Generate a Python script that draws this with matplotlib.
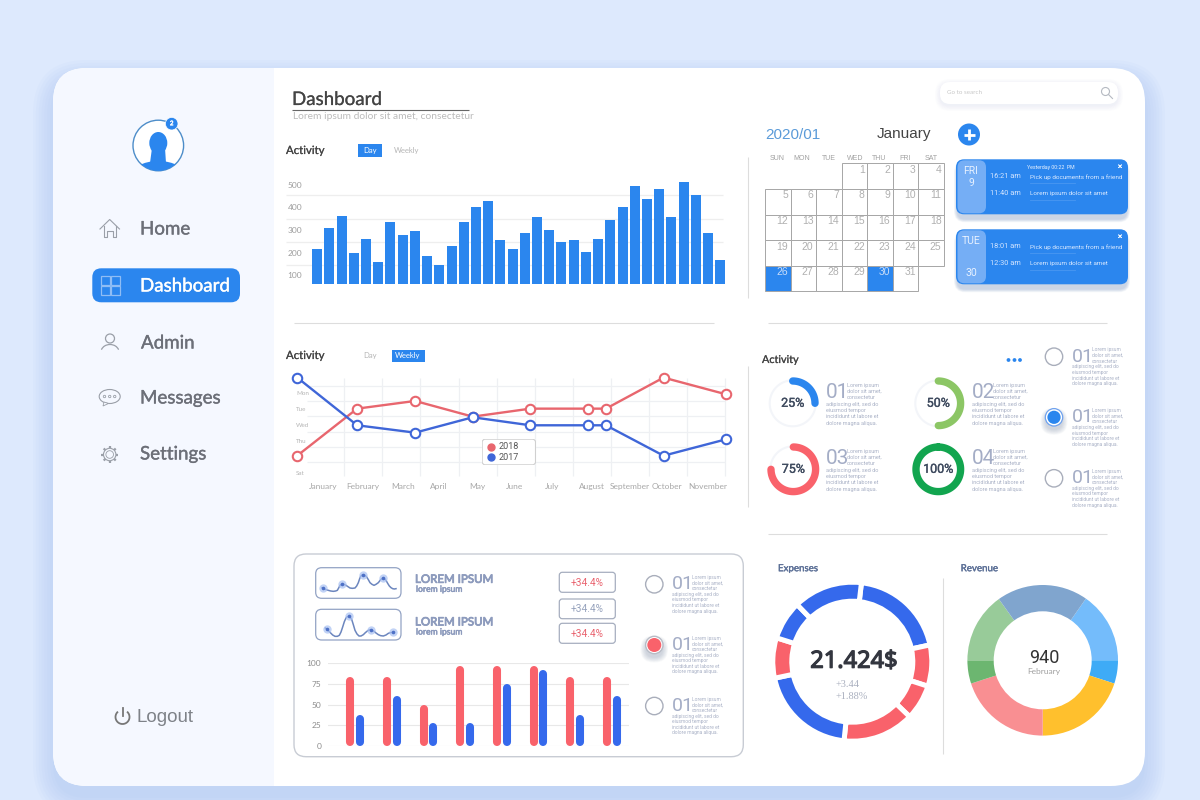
import numpy as np
import matplotlib
matplotlib.use("Agg")
import matplotlib.pyplot as plt
import matplotlib.patheffects as pe
from matplotlib.patches import FancyBboxPatch, Circle, Rectangle, Ellipse, Polygon, Arc

plt.rcParams['font.family'] = ['Lato', 'DejaVu Sans']

BLUE = '#2B86EE'
RED = '#F9626B'
LINE_RED = '#E8666E'
LINE_BLUE = '#3F66D8'
ROYAL = '#3569EC'
GREY_TXT = '#A9B1C6'

# --- data ---
activity_values = [214, 309, 362, 198, 261, 158, 337, 278, 294, 186, 143, 230, 337, 402, 429, 256, 214,
                   288, 358, 300, 247, 256, 202, 261, 344, 402, 497, 438, 484, 358, 515, 454, 287, 165]
activity_ticks = [100, 200, 300, 400, 500]
activity_grid = [143, 245, 349, 456]

months = ['January', 'February', 'March', 'April', 'May', 'June', 'July', 'August', 'September', 'October', 'November']
month_pos = [0, 1.04, 2.07, 3.01, 4.0, 4.97, 5.96, 6.99, 7.97, 8.96, 10.0]
week_labels = ['Mon', 'Tue', 'Wed', 'Thu', 'Sat']
week_pos = [1, 2, 3, 4, 6]
line_x = [-0.68, 0.88, 2.39, 3.89, 5.39, 6.88, 7.36, 8.86, 10.48]
line_2018 = [4.94, 2.0, 1.52, 2.5, 2.0, 2.0, 2.0, 0.06, 1.1]
line_2017 = [0.06, 3.04, 3.5, 2.54, 3.04, 3.04, 3.04, 4.94, 3.92]
line_vgrid = [0.55, 1.54, 2.53, 3.52, 4.51, 5.51, 6.51, 7.5, 8.47, 9.46, 10.45]
line_hgrid = [0.56, 1.52, 2.48, 3.44, 4.375, 5.33]

red_bars = [83, 83, 50, 97, 97, 97, 83, 83]
blue_bars = [37, 60, 27, 27, 75, 92, 37, 60]
bar_ticks = [0, 25, 50, 75, 100]

ring_percent = [25, 50, 75, 100]
ring_colors = [BLUE, '#8CC665', RED, '#12A54F']

expense_spans = [71.2, 30.2, 25.8, 52.2, 72.0, 29.5, 28.5, 50.6]
expense_colors = [ROYAL, RED, RED, RED, ROYAL, RED, ROYAL, ROYAL]
revenue_spans = [55, 18, 72, 72, 18, 54.4, 70.6]
revenue_colors = ['#74BCFB', '#3EABF6', '#FFC02D', '#F98F92', '#6CB670', '#98CB99', '#80A5CE']

spark1_x = [36, 40, 48, 55, 62, 70, 77, 82, 86, 90, 94, 97, 102, 108, 114, 120, 127, 135, 140, 145, 149,
            152, 156, 160, 165, 170, 175, 180, 186, 192, 198, 205, 212, 218, 223, 228, 233, 238, 243, 248, 253, 258]
spark1_y = [77, 79, 83, 85, 87, 88, 87, 85, 78, 70, 67, 66, 67, 70, 74, 78, 79, 78, 72, 62, 50,
            43, 39, 38, 40, 45, 53, 62, 67, 70, 67, 62, 53, 48, 50, 55, 64, 72, 77, 80, 81, 80]
spark2_x = [46, 50, 56, 62, 68, 75, 82, 88, 93, 98, 103, 108, 112, 116, 120, 125, 130, 135,
            141, 147, 153, 160, 166, 172, 177, 182, 187, 192, 198, 205, 212, 220, 228, 235, 241, 248]
spark2_y = [198, 201, 207, 213, 219, 223, 223, 220, 210, 195, 179, 168, 164, 163, 165, 172, 188, 205,
            216, 222, 222, 218, 212, 207, 204, 203, 205, 208, 213, 218, 221, 222, 219, 214, 212, 211]
spark1_dots = [1, 11, 23, 33]
spark2_dots = [1, 13, 25, 35]

cal_days = ['SUN', 'MON', 'TUE', 'WED', 'THU', 'FRI', 'SAT']
cal_col_x = [764.7, 790.7, 816, 841.7, 867.3, 892.7, 918.3, 944]
cal_row_y = [163.3, 189, 214.7, 240.3, 265.7, 291.3]
cal_selected = [26, 30]


fig = plt.figure(figsize=(12, 8), dpi=100, facecolor='#DDE9FD')

# page layer, one unit = one pixel
bg = fig.add_axes([0, 0, 1, 1])
bg.set_xlim(0, 1200)
bg.set_ylim(800, 0)
bg.axis('off')


def px_axes(x0, y0, x1, y1, **kw):
    ax = fig.add_axes([x0 / 1200, 1 - y1 / 800, (x1 - x0) / 1200, (y1 - y0) / 800], **kw)
    ax.patch.set_alpha(0)
    return ax


def rbox(x0, y0, x1, y1, r, fc='white', ec='none', lw=0, z=2, **kw):
    p = FancyBboxPatch((x0, y0), x1 - x0, y1 - y0, boxstyle='round,pad=0,rounding_size=%g' % r,
                       fc=fc, ec=ec, lw=lw, zorder=z, **kw)
    bg.add_patch(p)
    return p


def shadow(x0, y0, x1, y1, r, color, spread=10, dy=4, alpha=0.05, z=2.7):
    for s in np.linspace(spread, 0, 8):
        rbox(x0 - s, y0 - s + dy, x1 + s, y1 + s + dy, r + s, fc=color, alpha=alpha, z=z)


def txt(x, y, s, size, color='#555555', ha='left', va='center', z=5, heavy=0, **kw):
    t = bg.text(x, y + 1, s, fontsize=size, color=color, ha=ha, va=va, zorder=z, **kw)
    if heavy:
        # thickens the regular cut, no heavier cut of these fonts shows up
        t.set_path_effects([pe.withStroke(linewidth=heavy, foreground=color)])
    return t


def hline(x0, x1, y, color='#DDDDDD', lw=0.8):
    bg.plot([x0, x1], [y, y], color=color, lw=lw, zorder=3, solid_capstyle='butt')


def vline(x, y0, y1, color='#DDDDDD', lw=0.8):
    bg.plot([x, x], [y0, y1], color=color, lw=lw, zorder=3, solid_capstyle='butt')


# card and sidebar
shadow(53, 68, 1145, 786, 34, '#9FBCEC', spread=20, dy=12, alpha=0.06, z=1)
card = rbox(53, 68, 1145, 786, 34, fc='white', z=2)
side = Rectangle((53, 68), 221, 718, fc='#F5F8FF', ec='none', zorder=2.5)
bg.add_patch(side)
side.set_clip_path(card)

# sidebar: avatar
av_clip = Circle((158.3, 145.5), 25.3, transform=bg.transData)
bg.add_patch(Circle((158.3, 145.5), 25.3, fc='white', ec='#4D8DC9', lw=1, zorder=3))
sil = Ellipse((158.3, 177), 56, 32, fc=BLUE, ec='none', zorder=3.2)
bg.add_patch(sil)
sil.set_clip_path(av_clip)
bg.add_patch(Polygon([(152, 148), (165, 148), (166, 163), (150, 163)], fc=BLUE, ec='none', zorder=3.2))
bg.add_patch(Ellipse((158.3, 143), 18, 22, fc=BLUE, ec='none', zorder=3.3))
bg.add_patch(Circle((171.7, 123.7), 6.3, fc=BLUE, ec='white', lw=0.5, zorder=3.4))
txt(171.7, 122.7, '2', 4.5, 'white', ha='center', heavy=0.3)

# sidebar: menu
rbox(92.3, 268.3, 240, 302.3, 9, fc=BLUE, z=3)
menu = [('Home', 140, 228), ('Dashboard', 140, 285), ('Admin', 141, 342), ('Messages', 140, 397), ('Settings', 140, 453)]
for name, x, y in menu:
    txt(x, y, name, 13.5, 'white' if name == 'Dashboard' else '#6C6F78', heavy=0.25)

ic = '#9A9FA8'
# home
bg.plot([100, 109.7, 119.5], [229, 219.5, 229], color=ic, lw=0.8, zorder=4)
bg.plot([103.5, 103.5, 107, 107, 112.5, 112.5, 116, 116], [226, 236.5, 236.5, 230.5, 230.5, 236.5, 236.5, 226], color=ic, lw=0.8, zorder=4)
# dashboard
for dx in (100.5, 110.5):
    for dy in (276, 286):
        bg.add_patch(Rectangle((dx, dy), 9, 9, fc='none', ec='#8FBDF5', lw=0.9, zorder=4))
# admin
bg.add_patch(Circle((110, 338.5), 4.5, fc='none', ec=ic, lw=0.9, zorder=4))
bg.add_patch(Arc((110, 352), 18, 15, theta1=195, theta2=345, ec=ic, lw=0.9, zorder=4))
# messages
bg.add_patch(Ellipse((109.7, 396.5), 21, 14, fc='none', ec=ic, lw=0.8, zorder=4))
bg.add_patch(Polygon([(104, 402), (103, 406), (108.5, 403.5)], fc='#F5F8FF', ec=ic, lw=0.6, zorder=4))
for dx in (104.5, 109.7, 114.7):
    bg.add_patch(Circle((dx, 396.5), 1.2, fc='none', ec=ic, lw=0.6, zorder=4))
# settings
bg.add_patch(Circle((109.7, 454.5), 6.2, fc='none', ec=ic, lw=0.8, zorder=4))
bg.add_patch(Circle((109.7, 454.5), 3.8, fc='none', ec=ic, lw=0.6, zorder=4))
for a in np.deg2rad(np.arange(0, 360, 45)):
    bg.plot([109.7 + 6.2 * np.cos(a), 109.7 + 8.5 * np.cos(a)], [454.5 + 6.2 * np.sin(a), 454.5 + 8.5 * np.sin(a)],
            color=ic, lw=1.6, zorder=4, solid_capstyle='butt')
# logout
bg.add_patch(Arc((122.5, 717), 14, 14, theta1=-50, theta2=230, ec='#777777', lw=1.3, zorder=4))
bg.plot([122.5, 122.5], [708, 716], color='#777777', lw=1.3, zorder=4)
txt(137, 716, 'Logout', 13.5, '#7E8288', family=['Liberation Sans'])

# header
txt(292, 98.5, 'Dashboard', 13.5, '#444444', heavy=0.15)
hline(292, 469, 109.5, '#666666', 0.8)
txt(293, 115.5, 'Lorem ipsum dolor sit amet, consectetur', 7.4, '#BBBBBB')
shadow(940, 82, 1118, 104, 10, '#C6D4EE', spread=5, dy=2, alpha=0.03)
rbox(940, 82, 1118, 104, 10, fc='white', z=3)
txt(947, 92, 'Go to search', 4.5, '#C8C8C8')
bg.add_patch(Circle((1105.5, 91.5), 4, fc='none', ec='#B5BAC2', lw=0.8, zorder=4))
bg.plot([1108.5, 1112.5], [94.5, 98.5], color='#B5BAC2', lw=0.8, zorder=4)

# dividers
hline(294, 714, 323)
hline(768, 1107, 323)
hline(768, 1107, 534)
vline(748, 157, 298)
vline(748, 366, 507)
vline(943, 578, 754)

# activity bar chart
txt(286, 149.5, 'Activity', 8.2, '#444444', heavy=0.15)
bg.add_patch(Rectangle((358, 144), 24, 13, fc=BLUE, ec='none', zorder=3))
txt(370, 149.8, 'Day', 5.5, 'white', ha='center')
txt(394, 149.8, 'Weekly', 5.5, '#B5B5B5')

ax = px_axes(286, 178, 727, 284)
ax.bar(range(len(activity_values)), activity_values, width=0.82, color=BLUE, zorder=3)
ax.hlines(activity_grid, -2.55, 33.2, color='#EEEEEE', lw=0.9, zorder=1)
ax.set_xlim(-2.55, 33.55)
ax.set_ylim(60, 60 + (284 - 178) / 22.5 * 100)
ax.set_xticks([])
ax.set_yticks(activity_ticks, [str(t) for t in activity_ticks])
ax.tick_params(axis='y', length=0, pad=-1, labelsize=6, labelcolor='#9C9C9C')
for lab in ax.get_yticklabels():
    lab.set_ha('left')
for s in ax.spines.values():
    s.set_visible(False)

# calendar
txt(765, 134, '2020/01', 11, '#5B9BD9', family=['Liberation Sans'])
txt(877, 133, 'January', 11, '#444444', family=['Liberation Sans'])
bg.add_patch(Circle((969, 134.5), 11, fc=BLUE, ec='none', zorder=3))
bg.plot([963.5, 974.5], [134.5, 134.5], color='white', lw=2, zorder=4, solid_capstyle='butt')
bg.plot([969, 969], [129, 140], color='white', lw=2, zorder=4, solid_capstyle='butt')
cal_head_x = [777, 802, 829, 855, 879, 905, 931]
for d, x in zip(cal_days, cal_head_x):
    txt(x, 157.5, d, 5, '#A0A0A0', ha='center', family=['Liberation Sans'])
day = 1
for r in range(5):
    for c in range(7):
        if (r == 0 and c < 3) or (r == 4 and c > 5):
            continue
        x0, x1 = cal_col_x[c], cal_col_x[c + 1]
        y0, y1 = cal_row_y[r], cal_row_y[r + 1]
        sel = day in cal_selected
        bg.add_patch(Rectangle((x0, y0), x1 - x0, y1 - y0, fc=BLUE if sel else 'white', ec='#A6A6A6', lw=0.7, zorder=3.2 if sel else 3))
        txt(x1 - 2.5, y0 + 5.5, str(day), 7.5, '#C9DDF8' if sel else '#B0B0B0', ha='right', family=['Liberation Sans'])
        day += 1


def event_card(y0, y1, day_name, day_num, num_y, times):
    shadow(957, y0, 1127, y1, 8, '#6F8FBF', spread=3, dy=5, alpha=0.05)
    rbox(956, y0, 1128, y1, 8, fc=BLUE, z=3)
    rbox(957.5, y0 + 1, 986, y1 - 1, 7, fc='#75AEF5', z=3.2)
    txt(971, y0 + 11, day_name, 7.5, '#E7F1FF', ha='center', family=['Roboto'])
    txt(971, num_y, day_num, 7.5, '#E7F1FF', ha='center', family=['Roboto'])
    txt(1120, y0 + 6, '×', 5.5, 'white', ha='center', heavy=0.3)
    for (t, label), y in zip(times, (y0 + 16.5, y0 + 33.5)):
        txt(990, y, t, 5.3, '#D3E5FF', family=['Roboto'])
        txt(1030, y, label, 4.6, '#DCEAFF', family=['Roboto'])
        bg.plot([1030, 1075], [y + 7, y + 7], color='#4A97F1', lw=0.6, zorder=4)


event_card(159.3, 214.3, 'FRI', '9', 182.5, [('16:21 am', 'Pick up documents from a friend'), ('11:40 am', 'Lorem ipsum dolor sit amet')])
txt(1027, 166, 'Yesterday 00:22  PM', 3.8, '#E7F1FF', family=['Roboto'])
event_card(229.3, 284.3, 'TUE', '30', 272.5, [('18:01 am', 'Pick up documents from a friend'), ('12:30 am', 'Lorem ipsum dolor sit amet')])

# activity line chart
txt(286, 354.5, 'Activity', 8.2, '#444444', heavy=0.15)
txt(370, 354.8, 'Day', 5.5, '#B5B5B5', ha='center')
bg.add_patch(Rectangle((392, 349.5), 32.5, 12, fc=BLUE, ec='none', zorder=3))
txt(408, 354.8, 'Weekly', 5.5, 'white', ha='center')

ax = px_axes(286.7, 373.3, 728, 480)
ax.vlines(line_vgrid, 0.06, 6.2, color='#EEF0F3', lw=0.9, zorder=1)
ax.hlines(line_hgrid, -0.43, 10.45, color='#EEF0F3', lw=0.9, zorder=1)
for ys, col in ((line_2018, LINE_RED), (line_2017, LINE_BLUE)):
    ax.plot(line_x, ys, color=col, lw=1.7, marker='o', ms=6.8, mfc='white', mec=col, mew=1.5, zorder=3, clip_on=False)
ax.set_xlim(-0.954, 10.538)
ax.set_ylim(6.458, -0.208)
ax.set_xticks(month_pos, months)
ax.set_yticks(week_pos, week_labels)
ax.tick_params(axis='x', length=0, pad=2, labelsize=6, labelcolor='#A8A8A8')
ax.tick_params(axis='y', length=0, pad=-6.7, labelsize=4.5, labelcolor='#B5B5B5')
for lab in ax.get_yticklabels():
    lab.set_ha('left')
for s in ax.spines.values():
    s.set_visible(False)

# legend box sits over the chart, so it needs its own layer
leg = px_axes(481.7, 438.7, 536, 465.3)
leg.set_xlim(481.7, 536)
leg.set_ylim(465.3, 438.7)
leg.axis('off')
leg.add_patch(FancyBboxPatch((482.2, 439.2), 53.3, 25.6, boxstyle='round,pad=0,rounding_size=3', fc='white', ec='#D0D0D0', lw=0.8))
leg.plot([490.7], [446.7], 'o', ms=5, color=LINE_RED)
leg.plot([490.7], [457.3], 'o', ms=5, color=LINE_BLUE)
leg.text(499, 446.7, '2018', fontsize=6.5, color='#555555', va='center', family=['Roboto'])
leg.text(499, 457.3, '2017', fontsize=6.5, color='#555555', va='center', family=['Roboto'])

# progress rings
txt(762, 358.5, 'Activity', 7.8, '#444444', heavy=0.15)
for x in (1008.5, 1014.5, 1020):
    bg.add_patch(Circle((x, 360), 1.9, fc=BLUE, ec='none', zorder=3))

ring_centres = [(792.7, 403.3), (938.3, 403.3), (793.3, 469.3), (938.3, 469.3)]
for pct, col, (cx, cy) in zip(ring_percent, ring_colors, ring_centres):
    ax = px_axes(cx - 34, cy - 34, cx + 34, cy + 34, projection='polar')
    ax.set_theta_zero_location('N')
    ax.set_theta_direction(-1)
    ax.plot(np.linspace(0, 2 * np.pi, 120), np.full(120, 23), color='#F3F5F9', lw=1.5)
    ax.plot(np.linspace(0, 2 * np.pi * pct / 100, 120), np.full(120, 22.3), color=col, lw=5.3, solid_capstyle='round')
    ax.set_ylim(0, 34)
    ax.axis('off')
    t = ax.text(0, 0, '%d%%' % pct, fontsize=9, color='#3E4A5E', ha='center', va='center', family=['Roboto'])
    t.set_path_effects([pe.withStroke(linewidth=0.25, foreground='#3E4A5E')])


def blurb(x, y, num, size=13.5, small=False):
    # big number with lorem text wrapped around it
    pitch = 5.6 if small else 6.4
    fs = 3.5 if small else 4
    gap = 20 if small else 21
    txt(x, y + (6.5 if small else 7.3), num, size, '#A4ADC6', family=['Roboto'])
    for i, s in enumerate(['Lorem ipsum', 'dolor sit amet,', 'consectetur']):
        txt(x + gap, y + i * pitch, s, fs, GREY_TXT, family=['Roboto'])
    for i, s in enumerate(['adipiscing elit, sed do', 'eiusmod tempor', 'incididunt ut labore et', 'dolore magna aliqua.']):
        txt(x, y + (i + 3) * pitch, s, fs, GREY_TXT, family=['Roboto'])


blurb(826, 384, '01', 15)
blurb(972, 384, '02', 15)
blurb(826, 450, '03', 15)
blurb(972, 450, '04', 15)

side_y = [356.7, 417.3, 478.3]
for i, y in enumerate(side_y):
    if i == 1:
        shadow(1045.5, y - 8.5, 1062.5, y + 8.5, 8.5, '#7F8FA8', spread=5, dy=4, alpha=0.05)
        bg.add_patch(Circle((1054, y), 8.7, fc='white', ec='#6FA2EE', lw=0.9, zorder=3))
        bg.add_patch(Circle((1054, y), 6.6, fc=BLUE, ec='none', zorder=3.1))
    else:
        bg.add_patch(Circle((1054, y), 8.7, fc='white', ec='#A9AEBB', lw=1.0, zorder=3))
    blurb(1072, y - 7.7, '01', 14, small=True)

# bottom panel
rbox(294, 554, 743.3, 756.7, 12, fc='white', ec='#C8CCD4', lw=1, z=3)
rbox(315.7, 567.7, 401, 598.3, 6, fc='white', ec='#93A3C4', lw=0.9, z=3.2)
rbox(315.7, 609.3, 401, 640, 6, fc='white', ec='#93A3C4', lw=0.9, z=3.2)

ax = px_axes(310, 562, 410, 644)
ax.set_xlim(0, 300)
ax.set_ylim(246, 0)
ax.axis('off')
for xs, ys, dots in ((spark1_x, spark1_y, spark1_dots), (spark2_x, spark2_y, spark2_dots)):
    ax.plot(xs, ys, color='#6C86BE', lw=1.1)
    dx = [xs[i] for i in dots]
    dy = [ys[i] for i in dots]
    ax.plot(dx, dy, 'o', ms=6, color='#A9C1F2', mec='none', alpha=0.7)
    ax.plot(dx, dy, 'o', ms=2.6, color='#4D70C6', mec='none')

txt(415, 578.3, 'LOREM IPSUM', 8.3, '#8D9BBD', heavy=0.6)
txt(416, 588.3, 'lorem ipsum', 6.2, '#8D9BBD', heavy=0.4)
txt(415, 621, 'LOREM IPSUM', 8.3, '#8D9BBD', heavy=0.6)
txt(416, 631, 'lorem ipsum', 6.2, '#8D9BBD', heavy=0.4)
for (y0, y1), col in zip([(572.3, 592.3), (599, 618.7), (623.3, 643.3)], ['#E9636F', '#97A3BD', '#E9636F']):
    rbox(559.3, y0, 615.3, y1, 3, fc='white', ec='#A6AEBF', lw=0.9, z=3.2)
    txt(587.3, (y0 + y1) / 2 - 0.5, '+34.4%', 7.3, col, ha='center', family=['Roboto'])

panel_y = [584.3, 645, 706]
for i, y in enumerate(panel_y):
    if i == 1:
        shadow(645.5, y - 8.5, 663, y + 8.5, 8.5, '#7F8FA8', spread=5, dy=4, alpha=0.05, z=3.1)
        bg.add_patch(Circle((654.3, y), 8.7, fc='white', ec='#B8BCC6', lw=1.0, zorder=3.3))
        bg.add_patch(Circle((654.3, y), 7, fc=RED, ec='none', zorder=3.4))
    else:
        bg.add_patch(Circle((654.3, y), 8.7, fc='white', ec='#A9AEBB', lw=1.0, zorder=3.3))
    blurb(672, y - 7.7, '01', 14, small=True)

ax = px_axes(328.3, 663.3, 629.3, 745.7)
xs = np.arange(len(red_bars))
r = 4 / (82.4 / 100)
for x, v in zip(xs, red_bars):
    ax.plot([x - 0.132, x - 0.132], [r, v - r], color=RED, lw=5.8, solid_capstyle='round', zorder=3)
for x, v in zip(xs, blue_bars):
    ax.plot([x + 0.132, x + 0.132], [r, v - r], color=ROYAL, lw=5.8, solid_capstyle='round', zorder=3)
ax.set_xlim(-0.732, 7.477)
ax.set_ylim(0, 100)
ax.set_xticks([])
ax.set_yticks(bar_ticks, [str(t) for t in bar_ticks])
ax.tick_params(axis='y', length=0, pad=5, labelsize=6, labelcolor='#8C8C8C')
ax.grid(axis='y', color='#E8E8E8', lw=0.8, zorder=1)
ax.set_axisbelow(True)
for s in ax.spines.values():
    s.set_visible(False)

# expenses donut
txt(778, 567.7, 'Expenses', 7, '#5B6F96', heavy=0.25)
txt(960.7, 567.7, 'Revenue', 7, '#5B6F96', heavy=0.25)

cx, cy = 852.3, 661.7
ax = px_axes(cx - 90, cy - 90, cx + 90, cy + 90)
ax.pie(expense_spans, colors=expense_colors, radius=79.5, startangle=83.4, counterclock=False,
       wedgeprops={'width': 19, 'edgecolor': 'white', 'linewidth': 3.6})
ax.set_xlim(-90, 90)
ax.set_ylim(-90, 90)
txt(854, 660.7, '21.424$', 17, '#33363F', ha='center', family=['Noto Sans'], heavy=0.9)
txt(836, 683.5, '+3.44', 7.5, '#A9AFBE', family=['Liberation Serif'])
txt(836, 695.5, '+1.88%', 7.5, '#A9AFBE', family=['Liberation Serif'])

# revenue donut
cx, cy = 1042.7, 660.3
ax = px_axes(cx - 90, cy - 90, cx + 90, cy + 90)
ax.pie(revenue_spans, colors=revenue_colors, radius=75.3, startangle=55, counterclock=False,
       wedgeprops={'width': 26.3, 'linewidth': 0})
ax.set_xlim(-90, 90)
ax.set_ylim(-90, 90)
txt(1044, 657, '940', 13, '#333333', ha='center', family=['Roboto'])
txt(1044, 670.6, 'February', 6, '#A0A0A0', ha='center')

fig.savefig('out.png', dpi=100, facecolor=fig.get_facecolor())
